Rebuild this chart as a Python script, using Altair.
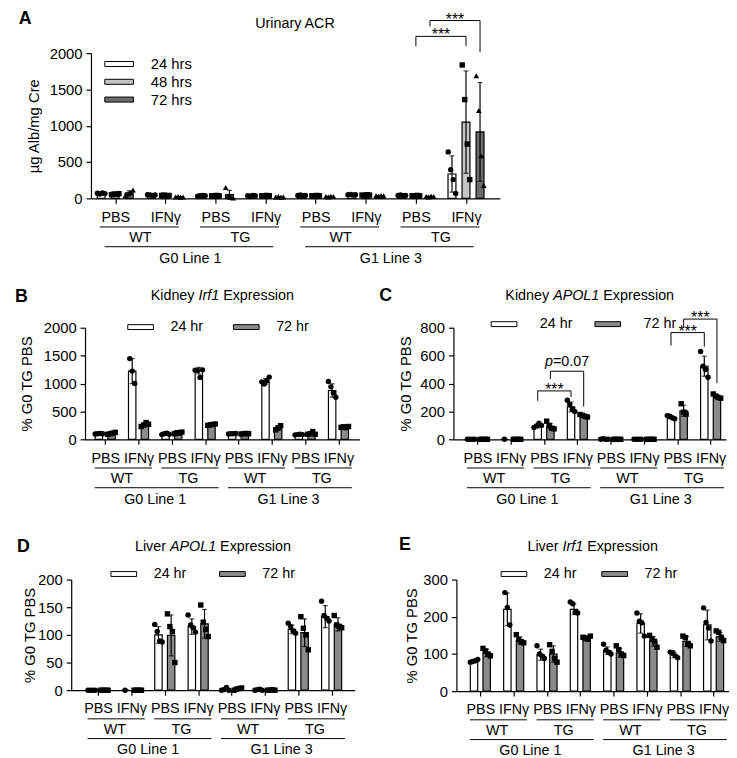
import json
import altair as alt
import pandas as pd

FONT = "Liberation Sans"

# ---------------- shared category structure ----------------
GROUPS = list(range(8))
TREAT = ["PBS", "IFNγ", "PBS", "IFNγ", "PBS", "IFNγ", "PBS", "IFNγ"]
GENOTYPE = ["WT", "TG", "WT", "TG"]
LINE = ["G0 Line 1", "G1 Line 3"]

# ---------------- Panel A : Urinary ACR ----------------
A_SERIES = ["24 hrs", "48 hrs", "72 hrs"]
A_COLORS = ["#ffffff", "#c4c4c4", "#6b6b6b"]
A_SHAPES = ["circle", "square", "triangle-up"]
A_MEAN = {"24 hrs": [65, 45, 35, 35, 40, 50, 40, 335],
          "48 hrs": [58, 40, 35, 35, 35, 45, 35, 1050],
          "72 hrs": [74, 20, 50, 20, 25, 35, 25, 915]}
A_SD = {"24 hrs": [8, 5, 5, 5, 5, 6, 5, 250],
        "48 hrs": [8, 5, 5, 5, 5, 5, 5, 705],
        "72 hrs": [30, 5, 60, 5, 5, 5, 5, 680]}
A_PTS = {"24 hrs": [[70, 60, 75, 65], [50, 45, 40, 45], [30, 35, 40, 35], [35, 30, 40, 35],
                    [40, 45, 35, 40], [50, 55, 45, 50], [40, 45, 35, 40], [640, 395, 258, 68]],
         "48 hrs": [[50, 60, 55, 65], [40, 45, 35, 40], [35, 30, 40, 35], [35, 30, 40, 35],
                    [35, 30, 40, 35], [45, 40, 50, 45], [35, 30, 40, 35], [1837, 1360, 748, 258]],
         "72 hrs": [[40, 60, 80, 115], [20, 25, 15, 20], [150, 30, 15, 5], [20, 25, 15, 20],
                    [25, 20, 30, 25], [35, 30, 40, 35], [25, 20, 30, 25], [1690, 1210, 585, 177]]}
A_BRACKETS = [  # (left group, left series, right group, right series, y line, y left end, y right end, label)
    (6, 1, 7, 1, 2231, 2095, 2095, "***"),
    (6, 2, 7, 2, 2449, 2367, 2014, "***"),
]

# ---------------- two-timepoint panels ----------------
T_SERIES = ["24 hr", "72 hr"]
T_COLORS = ["#ffffff", "#8a8a8a"]
T_SHAPES = ["circle", "square"]

B_MEAN = {"24 hr": [100, 1223, 95, 1230, 100, 1040, 85, 875],
          "72 hr": [105, 265, 115, 260, 100, 205, 105, 215]}
B_SD = {"24 hr": [5, 224, 10, 60, 5, 50, 5, 120],
        "72 hr": [15, 35, 12, 12, 5, 40, 25, 8]}
B_PTS = {"24 hr": [[95, 100, 105, 100], [1447, 1223, 1000], [85, 100, 110, 90], [1240, 1235, 1110, 1245],
                   [95, 100, 100, 105], [1030, 990, 1050, 1115], [80, 85, 90, 85], [1035, 940, 835, 755]],
         "72 hr": [[90, 100, 110, 125], [230, 255, 300, 270], [100, 120, 110, 130], [250, 260, 265, 275],
                   [95, 100, 105, 100], [170, 205, 245], [90, 100, 140, 90], [215, 225, 210, 230]]}

C_MEAN = {"24 hr": [0, 0, 95, 232, 1, 0, 155, 524],
          "72 hr": [0, 0, 92, 170, 0, 0, 205, 305]}
C_SD = {"24 hr": [0, 0, 12, 35, 2, 0, 8, 72],
        "72 hr": [0, 0, 20, 8, 0, 0, 40, 12]}
C_PTS = {"24 hr": [[0, 0, 0, 0], [0], [85, 95, 115, 100], [280, 250, 215, 200],
                   [0, 4, 0, 0], [0, 0, 0, 0], [170, 165, 155, 148], [630, 525, 500, 445]],
         "72 hr": [[0, 0, 0, 0], [0, 0, 0, 0], [130, 100, 80, 75], [178, 172, 165, 160],
                   [0, 0, 0, 0], [0, 0, 0, 0], [255, 195, 180], [325, 310, 300, 295]]}
C_BRACKETS = [
    (2, 0, 3, 0, 347, 276, 304, "***"),
    (2, 1, 3, 1, 488, 432, 235, "p=0.07"),
    (6, 0, 7, 0, 765, 672, 665, "***"),
    (6, 1, 7, 1, 862, 805, 403, "***"),
]

D_MEAN = {"24 hr": [0, 0, 100, 115, 2, 1, 110, 133],
          "72 hr": [0, 0, 99, 120, 2, 0, 104, 119]}
D_SD = {"24 hr": [0, 0, 15, 14, 2, 1, 8, 20],
        "72 hr": [0, 0, 37, 26, 2, 0, 25, 12]}
D_PTS = {"24 hr": [[0, 0, 0, 0], [0], [119, 106, 89, 87], [136, 118, 113, 105],
                   [0, 1, 5, 0], [0, 1, 2, 0], [121, 115, 107, 103], [161, 135, 130, 125]],
         "72 hr": [[0, 0, 0, 0], [0, 0, 0, 0], [138, 115, 106, 50], [154, 123, 110, 97],
                   [0, 2, 3, 4], [0, 0, 1, 0], [133, 112, 100, 73], [135, 118, 115, 113]]}

E_MEAN = {"24 hr": [82, 220, 98, 220, 109, 182, 97, 178],
          "72 hr": [103, 136, 100, 145, 103, 134, 134, 146]}
E_SD = {"24 hr": [3, 44, 15, 14, 10, 26, 7, 40],
        "72 hr": [10, 10, 22, 4, 12, 13, 13, 12]}
E_PTS = {"24 hr": [[78, 80, 82, 85], [265, 225, 178], [122, 100, 95, 88], [240, 235, 212, 210],
                   [126, 110, 105, 100], [210, 188, 184, 148], [105, 104, 95, 90], [224, 185, 170, 135]],
         "72 hr": [[115, 108, 100, 95], [152, 138, 133, 130], [125, 107, 88, 78], [145, 142, 140, 148],
                   [122, 112, 100, 96], [150, 140, 134, 118], [148, 144, 126, 122], [162, 158, 145, 136]]}

# ---------------- helpers ----------------
CW = {'K': .667, 'i': .222, 'd': .556, 'n': .556, 'e': .556, 'y': .5, ' ': .278, 'I': .278, 'r': .333,
      'f': .278, '1': .556, 'E': .667, 'x': .5, 'p': .556, 's': .5, 'o': .556, 'A': .667, 'P': .667,
      'O': .778, 'L': .556, 'v': .5, '=': .584, '0': .556, '.': .278, '7': .556, 'U': .722, 'a': .556,
      'C': .722, 'R': .722}


def tw(s, fs):
    return sum(CW.get(c, 0.556) for c in s) * fs


def one(v):
    return pd.DataFrame({"t": [v]})


def text_at(s, x, y, fs, italic=False, bold=False, align="left"):
    return alt.Chart(one(s)).mark_text(
        align=align, baseline="middle", fontSize=fs, font=FONT, color="black",
        fontStyle="italic" if italic else "normal", fontWeight="bold" if bold else "normal"
    ).encode(text="t:N", x=alt.value(x), y=alt.value(y))


def make_panel(letter, letter_pos, title_parts, title_y, series, colors, shapes, means, sds, pts,
               width, height, xdom, ydom, yticks, ytitle, title_pad, ppu, offsets, bar_size,
               legend, ext_top, ext_bot, brackets=None):
    xs = alt.Scale(domain=xdom, nice=False, zero=False)
    ys = alt.Scale(domain=ydom, nice=False, zero=False)
    label_expr = json.dumps(TREAT) + "[round(datum.value)]"
    xaxis = alt.Axis(values=GROUPS, labelExpr=label_expr, title=None, tickSize=5, labelPadding=7,
                     labelFontSize=14.5, labelFlush=False, labelOverlap=False, labelAngle=0, grid=False)
    yaxis = alt.Axis(values=yticks, format="d", title=ytitle, titleFontSize=15, labelFontSize=15,
                     tickSize=5, labelPadding=4, titlePadding=title_pad, grid=False, labelFlush=False)

    def X(f):
        return alt.X(f + ":Q", scale=xs, axis=xaxis)

    def Y(f):
        return alt.Y(f + ":Q", scale=ys, axis=yaxis)

    bar_rows = []
    pt_frames = []
    step = 2.6 / ppu
    for si, s in enumerate(series):
        rows = []
        for g in GROUPS:
            m, sd = means[s][g], sds[s][g]
            xc = g + offsets[si]
            bar_rows.append(dict(series=s, x=xc, mean=m, lo=m - sd, hi=m + sd))
            vals = pts[s][g]
            n = len(vals)
            for j, v in enumerate(vals):
                rows.append(dict(x=xc + (j - (n - 1) / 2) * step, value=v))
        pt_frames.append(pd.DataFrame(rows))
    bdf = pd.DataFrame(bar_rows)

    bars = alt.Chart(bdf).mark_bar(size=bar_size, stroke="black", strokeWidth=1.2).encode(
        x=X("x"), y=Y("mean"),
        fill=alt.Fill("series:N", scale=alt.Scale(domain=series, range=colors), legend=legend),
    )
    err = alt.Chart(bdf).mark_rule(color="black", strokeWidth=1.2).encode(
        x=X("x"), y=Y("lo"), y2=alt.Y2("hi"))
    cap_hi = alt.Chart(bdf).mark_tick(orient="horizontal", size=5, thickness=1.2, color="black").encode(
        x=X("x"), y=Y("hi"))
    cap_lo = alt.Chart(bdf).mark_tick(orient="horizontal", size=5, thickness=1.2, color="black").encode(
        x=X("x"), y=Y("lo"))
    point_layers = []
    for si, df in enumerate(pt_frames):
        sz = 34 if shapes[si] == "triangle-up" else 30
        point_layers.append(alt.Chart(df).mark_point(
            filled=True, opacity=1, color="black", size=sz, strokeWidth=0, shape=shapes[si]
        ).encode(x=X("x"), y=Y("value")))

    # hierarchy beneath the axis
    h1 = pd.DataFrame([dict(xl=2 * k - ext_top[0] / ppu, xr=2 * k + 1 + ext_top[1] / ppu,
                            xm=2 * k + 0.5, label=GENOTYPE[k]) for k in range(4)])
    h2 = pd.DataFrame([dict(xl=4 * k - ext_bot[0] / ppu, xr=4 * k + 3 + ext_bot[1] / ppu,
                            xm=4 * k + 1.5, label=LINE[k]) for k in range(2)])
    hl = []
    for df, yl, yt in ((h1, height + 29, height + 40), (h2, height + 49, height + 61)):
        hl.append(alt.Chart(df).mark_rule(color="black", strokeWidth=1).encode(
            x=X("xl"), x2=alt.X2("xr"), y=alt.value(yl)))
        hl.append(alt.Chart(df).mark_text(fontSize=14.5, font=FONT, baseline="middle", color="black").encode(
            x=X("xm"), y=alt.value(yt), text="label:N"))

    # title with mixed styles
    tfs = 14.5
    widths = [tw(p, tfs) for p, _ in title_parts]
    sp = 0.278 * tfs
    total = sum(widths) + sp * (len(title_parts) - 1)
    cx = width / 2 - total / 2
    tl = []
    for (p, it), w in zip(title_parts, widths):
        tl.append(text_at(p, cx, title_y, tfs, italic=it))
        cx += w + sp
    tl.append(text_at(letter, letter_pos[0], letter_pos[1], 18, bold=True))

    bl = []
    if brackets:
        rows = []
        for (g1, s1, g2, s2, yline, yle, yre, lab) in brackets:
            xl = g1 + offsets[s1]
            xr = g2 + offsets[s2]
            rows.append(dict(xl=xl, xr=xr, xm=(xl + xr) / 2, yline=yline, yle=yle, yre=yre, label=lab))
        bk = pd.DataFrame(rows)
        bl.append(alt.Chart(bk).mark_rule(color="black", strokeWidth=1).encode(
            x=X("xl"), x2=alt.X2("xr"), y=Y("yline")))
        bl.append(alt.Chart(bk).mark_rule(color="black", strokeWidth=1).encode(
            x=X("xl"), y=Y("yline"), y2=alt.Y2("yle")))
        bl.append(alt.Chart(bk).mark_rule(color="black", strokeWidth=1).encode(
            x=X("xr"), y=Y("yline"), y2=alt.Y2("yre")))
        stars = bk[bk["label"] == "***"]
        bl.append(alt.Chart(stars).mark_text(fontSize=16, font=FONT, baseline="alphabetic", dy=4,
                                             color="black").encode(
            x=X("xm"), y=Y("yline"), text="label:N"))
        pv = bk[bk["label"] != "***"]
        if len(pv):
            fs = 14.5
            wp = tw("p", fs)
            wt = tw("p=0.07", fs)
            pdf1 = pv.assign(label="p")
            pdf2 = pv.assign(label="=0.07")
            bl.append(alt.Chart(pdf1).mark_text(fontSize=fs, font=FONT, fontStyle="italic", align="left",
                                                baseline="alphabetic", dy=-5, dx=-wt / 2,
                                                color="black").encode(
                x=X("xm"), y=Y("yline"), text="label:N"))
            bl.append(alt.Chart(pdf2).mark_text(fontSize=fs, font=FONT, align="left",
                                                baseline="alphabetic", dy=-5, dx=-wt / 2 + wp,
                                                color="black").encode(
                x=X("xm"), y=Y("yline"), text="label:N"))

    return alt.layer(bars, err, cap_hi, cap_lo, *point_layers, *hl, *tl, *bl).properties(
        width=width, height=height)


def h_legend(x, y, colpad, loff=23):
    return alt.Legend(title=None, orient="none", legendX=x, legendY=y, direction="horizontal",
                      symbolType="M-2,-0.38H2V0.38H-2Z", symbolSize=169, symbolStrokeColor="black",
                      symbolStrokeWidth=1, labelFontSize=14.5, labelFont=FONT, labelColor="black",
                      labelOffset=loff, columnPadding=colpad, padding=0)


A_LEG = alt.Legend(title=None, orient="none", legendX=20.5, legendY=3, direction="vertical",
                   symbolType="M-2,-0.35H2V0.35H-2Z", symbolSize=210, symbolStrokeColor="black",
                   symbolStrokeWidth=1, labelFontSize=15, labelFont=FONT, labelColor="black",
                   labelOffset=24, rowPadding=2, padding=0)

T_OFF = [-0.19, 0.19]

pA = make_panel("A", (-73, -35), [("Urinary ACR", False)], -29, A_SERIES, A_COLORS, A_SHAPES,
                A_MEAN, A_SD, A_PTS, 414, 147, [-0.385, 7.577], [0, 2000], [0, 500, 1000, 1500, 2000],
                "µg Alb/mg Cre", 8, 52, [-0.28, 0, 0.28], 8, A_LEG, (16, 14), (11, 8), A_BRACKETS)

pB = make_panel("B", (-71, -31), [("Kidney", False), ("Irf1", True), ("Expression", False)], -32,
                T_SERIES, T_COLORS, T_SHAPES, B_MEAN, B_SD, B_PTS, 278, 113, [-0.457, 7.486], [0, 2000],
                [0, 500, 1000, 1500, 2000], "% G0 TG PBS", 9, 35, T_OFF, 7.5, h_legend(49, -8, 28),
                (11, 14), (11, 14))

pC = make_panel("C", (-75, -32), [("Kidney", False), ("APOL1", True), ("Expression", False)], -32,
                T_SERIES, T_COLORS, T_SHAPES, C_MEAN, C_SD, C_PTS, 276, 113, [-0.571, 7.314], [0, 800],
                [0, 200, 400, 600, 800], "% G0 TG PBS", 6.5, 35, T_OFF, 7.5, h_legend(44, -11, 20, 29),
                (11, 14), (11, 14), C_BRACKETS)

pD = make_panel("D", (-55, -33), [("Liver", False), ("APOL1", True), ("Expression", False)], -33,
                T_SERIES, T_COLORS, T_SHAPES, D_MEAN, D_SD, D_PTS, 287, 112, [-0.657, 7.543], [0, 200],
                [0, 50, 100, 150, 200], "% G0 TG PBS", 0, 35, T_OFF, 7.5, h_legend(46, -13, 31),
                (11, 14), (11, 14))

pE = make_panel("E", (-58, -35), [("Liver", False), ("Irf1", True), ("Expression", False)], -33,
                T_SERIES, T_COLORS, T_SHAPES, E_MEAN, E_SD, E_PTS, 276, 113, [-0.571, 7.314], [0, 300],
                [0, 100, 200, 300], "% G0 TG PBS", 3.5, 35, T_OFF, 7.5, h_legend(51, -13, 23),
                (11, 14), (11, 14))


def spacer(w):
    # empty cell that only fixes where a row's first panel starts
    return alt.Chart(pd.DataFrame({"s": []})).mark_point().properties(width=w, height=1)


def ind(c):
    return c.resolve_scale(fill="independent").resolve_legend(fill="independent")


rowA = ind(alt.hconcat(spacer(1), pA, spacing=50))
rowBC = ind(alt.hconcat(spacer(27), pB, pC, spacing=20))
rowDE = ind(alt.hconcat(spacer(4), pD, pE, spacing=45))
lower = ind(alt.vconcat(rowBC, rowDE, spacing=30))
chart = ind(alt.vconcat(rowA, lower, spacing=22)).properties(
    padding={"left": -40, "top": -3, "right": 0, "bottom": 0}
).configure(font=FONT).configure_view(stroke=None).configure_axis(
    domainColor="black", tickColor="black", labelColor="black", titleColor="black",
    domainWidth=1.2, tickWidth=1.2, grid=False, labelFont=FONT, titleFont=FONT,
    titleFontWeight="normal"
)

chart.save("out.html", embed_options={"renderer": "svg", "actions": False})
